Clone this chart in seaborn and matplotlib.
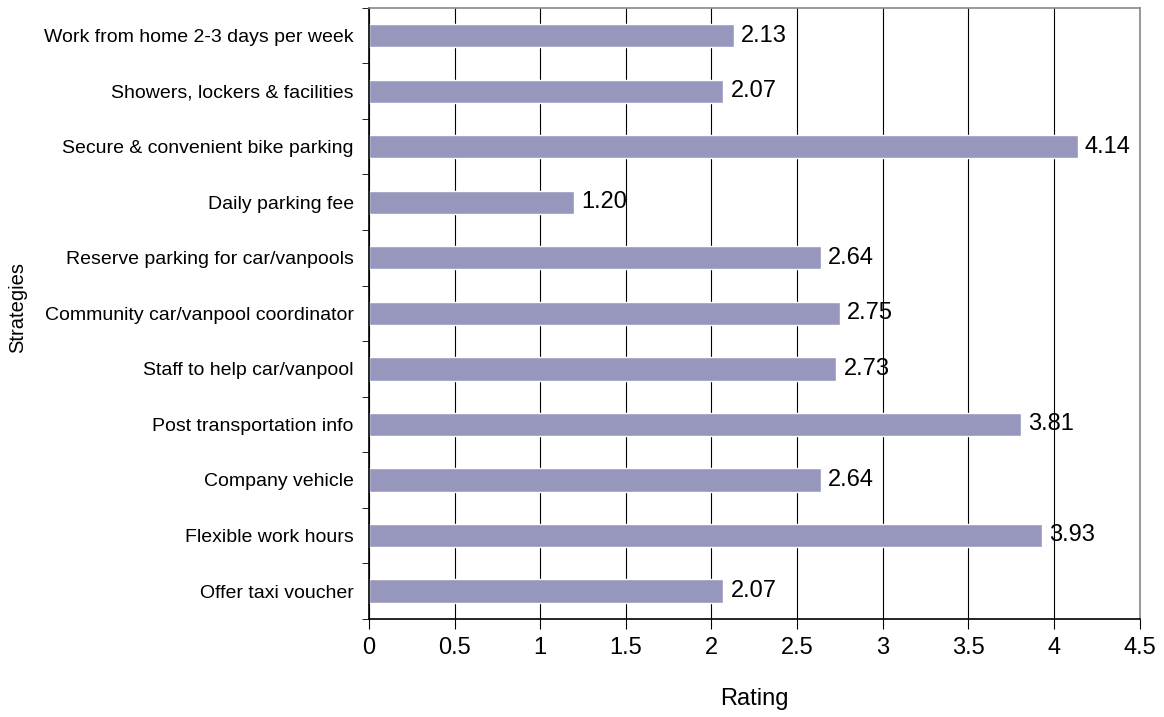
import matplotlib
import matplotlib.pyplot as plt
import pandas as pd
import seaborn as sns

matplotlib.use("Agg")

strategies = [
    "Work from home 2-3 days per week",
    "Showers, lockers & facilities",
    "Secure & convenient bike parking",
    "Daily parking fee",
    "Reserve parking for car/vanpools",
    "Community car/vanpool coordinator",
    "Staff to help car/vanpool",
    "Post transportation info",
    "Company vehicle",
    "Flexible work hours",
    "Offer taxi voucher",
]
ratings = [2.13, 2.07, 4.14, 1.20, 2.64, 2.75, 2.73, 3.81, 2.64, 3.93, 2.07]
x_ticks = [0, 0.5, 1, 1.5, 2, 2.5, 3, 3.5, 4, 4.5]

df = pd.DataFrame({"Strategy": strategies, "Rating": ratings})

sns.set_style("white")
plt.rcParams["font.family"] = ["Liberation Sans", "DejaVu Sans"]
plt.rcParams["text.color"] = "black"
plt.rcParams["axes.labelcolor"] = "black"
plt.rcParams["xtick.color"] = "black"
plt.rcParams["ytick.color"] = "black"

fig = plt.figure(figsize=(11.64, 7.17), dpi=100)
ax = fig.add_axes([0.317, 0.137, 0.662, 0.852])

sns.barplot(data=df, x="Rating", y="Strategy", orient="h", color="#9797BD",
            saturation=1, width=0.42, ax=ax)

for i, v in enumerate(ratings):
    ax.annotate(f"{v:.2f}", (v, i), xytext=(5, 0), textcoords="offset points",
                va="center", ha="left", fontsize=17, color="black")

ax.set_xlim(0, 4.5)
ax.set_ylim(len(strategies) - 0.5, -0.5)
ax.set_xticks(x_ticks)
ax.set_xticklabels([f"{t:g}" for t in x_ticks], fontsize=17)
ax.xaxis.grid(True, color="black", linewidth=0.8)
ax.set_axisbelow(True)

# ticks on category boundaries
ax.set_yticks(range(len(strategies)))
ax.set_yticklabels(strategies, fontsize=14)
ax.tick_params(axis="y", length=0, pad=11)
ax.set_yticks([i - 0.5 for i in range(len(strategies) + 1)], minor=True)
ax.tick_params(axis="y", which="minor", length=5, direction="out", left=True, color="black")
ax.tick_params(axis="x", length=7, direction="out", bottom=True, color="black", pad=6)

for s in ["left", "bottom"]:
    ax.spines[s].set_color("black")
    ax.spines[s].set_linewidth(1.2)
for s in ["top", "right"]:
    ax.spines[s].set_color("#888888")
    ax.spines[s].set_linewidth(1.2)
    ax.spines[s].set_visible(True)

ax.set_xlabel("Rating", fontsize=17, labelpad=21)
ax.set_ylabel("Strategies", fontsize=14.5)
ax.yaxis.set_label_coords(-0.443, 0.51)

fig.savefig("out.png", dpi=100)
